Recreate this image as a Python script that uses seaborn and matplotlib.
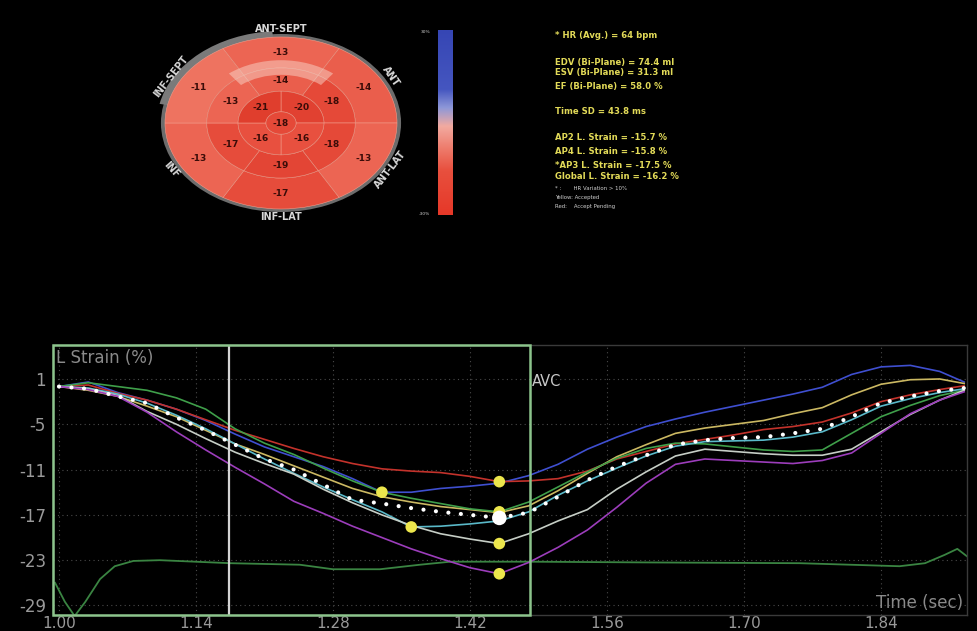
import numpy as np
import pandas as pd
import matplotlib
matplotlib.use("Agg")
import matplotlib.pyplot as plt
import seaborn as sns
from matplotlib.patches import Wedge, Rectangle
from matplotlib.colors import LinearSegmentedColormap, Normalize

# ---------------- data ----------------
time_s = [1.00, 1.03, 1.06, 1.09, 1.12, 1.15, 1.18, 1.21, 1.24, 1.27, 1.30,
          1.33, 1.36, 1.39, 1.42, 1.45, 1.48, 1.51, 1.54, 1.57, 1.60, 1.63,
          1.66, 1.69, 1.72, 1.75, 1.78, 1.81, 1.84, 1.87, 1.90, 1.925]

strain_blue = [0.0, 0.6, -0.8, -1.8, -3.0, -4.5, -6.3, -8.0, -9.3, -10.6, -12.2,
               -14.0, -14.0, -13.5, -13.2, -12.8, -11.8, -10.3, -8.3, -6.7, -5.3, -4.3,
               -3.4, -2.6, -1.8, -1.0, -0.1, 1.6, 2.6, 2.8, 2.0, 0.6]
strain_red = [0.0, 0.2, -0.9, -1.8, -3.0, -4.4, -5.8, -7.0, -8.2, -9.3, -10.2,
              -10.9, -11.2, -11.4, -11.9, -12.6, -12.5, -12.2, -11.2, -9.6, -8.6, -7.6,
              -7.0, -6.4, -5.7, -5.3, -4.7, -3.5, -2.0, -1.1, -0.4, 0.1]
strain_tan = [0.0, -0.5, -1.3, -2.6, -4.0, -5.8, -7.6, -9.0, -10.5, -12.0, -13.5,
              -14.6, -15.3, -15.9, -16.3, -16.7, -15.8, -13.8, -11.5, -9.3, -7.7, -6.2,
              -5.5, -5.0, -4.5, -3.6, -2.8, -1.1, 0.3, 0.9, 1.0, 0.4]
strain_green = [0.0, 0.5, 0.0, -0.5, -1.5, -3.0, -5.6, -7.5, -9.0, -10.8, -12.5,
                -14.0, -14.8, -15.5, -16.2, -16.6, -15.3, -13.3, -11.3, -9.5, -8.2, -7.5,
                -7.6, -8.0, -8.4, -8.6, -8.4, -6.2, -4.0, -2.5, -1.2, -0.5]
strain_cyan = [0.0, -0.2, -1.0, -2.2, -3.8, -5.6, -7.6, -9.6, -11.5, -13.3, -15.0,
               -16.6, -18.6, -18.5, -18.2, -17.8, -16.6, -14.4, -12.5, -10.8, -9.2, -7.9,
               -7.3, -7.2, -7.1, -6.7, -6.0, -4.4, -2.6, -1.6, -0.8, -0.3]
strain_gray = [0.0, -0.3, -1.2, -3.3, -5.0, -6.9, -8.7, -10.2, -11.6, -13.6, -15.4,
               -17.0, -18.4, -19.5, -20.2, -20.8, -19.5, -17.8, -16.3, -13.6, -11.3, -9.2,
               -8.3, -8.6, -8.9, -9.1, -9.1, -8.3, -6.0, -3.7, -1.8, -0.5]
strain_purple = [0.0, -0.4, -1.3, -3.4, -6.0, -8.4, -10.7, -12.9, -15.2, -16.8, -18.5,
                 -20.0, -21.5, -22.8, -24.0, -24.8, -23.3, -21.3, -19.0, -16.0, -12.8, -10.3,
                 -9.6, -9.8, -10.0, -10.2, -9.8, -8.8, -6.2, -3.6, -1.8, -0.7]
strain_avg = [0.0, -0.3, -1.3, -2.2, -4.1, -5.8, -7.7, -9.6, -11.0, -13.0, -15.0,
              -15.5, -16.1, -16.6, -17.0, -17.4, -16.7, -14.6, -12.4, -10.6, -9.1, -7.7,
              -7.1, -6.8, -6.7, -6.2, -5.6, -4.0, -2.2, -1.3, -0.6, -0.2]

ecg_time = [0.996, 1.006, 1.016, 1.027, 1.042, 1.057, 1.076, 1.103, 1.175, 1.246,
            1.280, 1.328, 1.369, 1.400, 1.481, 1.604, 1.757, 1.859, 1.885, 1.905,
            1.918, 1.928]
ecg_vals = [-26.0, -28.5, -30.4, -28.5, -25.5, -23.8, -23.1, -23.0, -23.4, -23.6,
            -24.2, -24.2, -23.6, -23.2, -23.2, -23.3, -23.4, -23.8, -23.4, -22.3,
            -21.5, -22.5]

x_ticks = [1.00, 1.14, 1.28, 1.42, 1.56, 1.70, 1.84]
x_tick_labels = ["1.00", "1.14", "1.28", "1.42", "1.56", "1.70", "1.84"]
y_ticks = [1, -5, -11, -17, -23, -29]
y_tick_labels = ["1", "-5", "-11", "-17", "-23", "-29"]
avc_time = 1.481
cursor_time = 1.174

# bull's-eye (order: ANT-SEPT, ANT, ANT-LAT, INF-LAT, INF, INF-SEPT)
wall_labels = ["ANT-SEPT", "ANT", "ANT-LAT", "INF-LAT", "INF", "INF-SEPT"]
basal_vals = [-13, -14, -13, -17, -13, -11]
mid_vals = [-14, -18, -18, -19, -17, -13]
apical_vals = [-20, -16, -16, -21]   # upper-right, lower-right, lower-left, upper-left
apex_val = -18

info_lines = ["* HR (Avg.) = 64 bpm", "EDV (Bi-Plane) = 74.4 ml",
              "ESV (Bi-Plane) = 31.3 ml", "EF (Bi-Plane) = 58.0 %",
              "Time SD = 43.8 ms", "AP2 L. Strain = -15.7 %",
              "AP4 L. Strain = -15.8 %", "*AP3 L. Strain = -17.5 %",
              "Global L. Strain = -16.2 %"]
note_lines = ["* :       HR Variation > 10%", "Yellow: Accepted", "Red:    Accept Pending"]

# ---------------- figure ----------------
W, H = 977, 631
fig = plt.figure(figsize=(W / 100, H / 100), dpi=100, facecolor="black")
plt.rcParams["font.family"] = ["DejaVu Sans"]

def fx(px):
    return px / W

def fy(py):
    return 1 - py / H

# ---- main strain plot ----
ax = fig.add_axes([fx(53), fy(615), fx(967) - fx(53), fy(345) - fy(615)])
ax.set_facecolor("black")

seg_names = ["blue", "red", "tan", "green", "cyan", "gray", "purple"]
seg_series = [strain_blue, strain_red, strain_tan, strain_green,
              strain_cyan, strain_gray, strain_purple]
seg_palette = {"blue": "#3f4fd0", "red": "#c3322b", "tan": "#cbb862",
               "green": "#3f9f4a", "cyan": "#5ab9c9", "gray": "#c6cec6",
               "purple": "#9c3dbb"}
df = pd.DataFrame({"time": time_s})
for n, s in zip(seg_names, seg_series):
    df[n] = s
long = df.melt(id_vars="time", var_name="segment", value_name="strain")

sns.lineplot(data=pd.DataFrame({"time": ecg_time, "strain": ecg_vals}),
             x="time", y="strain", color="#3a8442", lw=1.3, ax=ax,
             estimator=None, sort=False)
sns.lineplot(data=long, x="time", y="strain", hue="segment", palette=seg_palette,
             hue_order=seg_names, lw=1.2, ax=ax, legend=False,
             estimator=None, sort=False)
sns.lineplot(x=time_s, y=strain_avg, color="white", lw=3.0, ax=ax,
             estimator=None, sort=False)
avg_line = ax.lines[-1]
avg_line.set_linestyle((0, (0.01, 3.0)))
avg_line.set_dash_capstyle("round")
avg_line.set_zorder(4)

# peak markers computed from data
tarr = np.array(time_s)
pk_t, pk_v = [], []
for s in seg_series:
    a = np.array(s)
    i = int(np.argmin(a))
    pk_t.append(tarr[i]); pk_v.append(a[i])
sns.scatterplot(x=pk_t, y=pk_v, color="#ece64c", s=70, edgecolor="none",
                ax=ax, zorder=6, legend=False)
ia = int(np.argmin(strain_avg))
sns.scatterplot(x=[tarr[ia]], y=[strain_avg[ia]], color="white", s=110,
                edgecolor="none", ax=ax, zorder=7, legend=False)

xlo, xhi = 0.9939, 1.9279
ylo, yhi = -30.26, 5.50
ax.set_xlim(xlo, xhi)
ax.set_ylim(ylo, yhi)
ax.set_xticks(x_ticks)
ax.set_xticklabels(x_tick_labels)
ax.set_yticks(y_ticks)
ax.set_yticklabels(y_tick_labels)
ax.set_xlabel("")
ax.set_ylabel("")
ax.tick_params(length=0, colors="#9a9a9a", labelsize=11, pad=1)
ax.tick_params(axis="y", pad=5, labelsize=12)
ax.grid(True, color="#4a4a4a", linestyle=(0, (1, 3)), lw=0.8)
ax.set_axisbelow(True)
for sp in ax.spines.values():
    sp.set_color("#3a3a3a")
    sp.set_linewidth(1.0)

ax.axvline(cursor_time, color="#d4d4d4", lw=1.6, zorder=3)
ax.add_patch(Rectangle((xlo, ylo), avc_time - xlo, yhi - ylo, fill=False,
                       ec="#8cc48c", lw=1.8, zorder=5, clip_on=False))
ax.text(avc_time + 0.002, 0.7, "AVC", color="#c8c8c8", fontsize=10.5,
        va="center", ha="left")
ax.text(0.003, 0.952, "L Strain (%)", color="#8a8a8a", fontsize=12,
        va="center", ha="left", transform=ax.transAxes)
ax.text(0.9956, 0.044, "Time (sec)", color="#8a8a8a", fontsize=12,
        va="center", ha="right", transform=ax.transAxes)

# ---- bull's-eye ----
axb = fig.add_axes([fx(135), fy(236), fx(427) - fx(135), fy(10) - fy(236)])
axb.set_xlim(-1.2586, 1.2586)
axb.set_ylim(-1.314, 1.314)
axb.axis("off")

be_cmap = LinearSegmentedColormap.from_list("be", ["#de3a2a", "#e8503f", "#ef7a66"])
be_norm = Normalize(-22, -10)
edge = "#f29a88"

axb.add_patch(Wedge((0, 0), 1.035, 0, 360, width=0.045, fc="#6c6c6c", ec="none"))
axb.add_patch(Wedge((0, 0), 1.07, 94, 168, width=0.08, fc="#7a7a7a", ec="none"))

six_centers = [90, 30, -30, -90, -150, 150]
for c, v in zip(six_centers, basal_vals):
    axb.add_patch(Wedge((0, 0), 1.0, c - 30, c + 30, width=0.36,
                        fc=be_cmap(be_norm(v)), ec=edge, lw=0.4))
    a = np.deg2rad(c)
    axb.text(0.82 * np.cos(a), 0.82 * np.sin(a), str(v), color="#3a0c08",
             fontsize=6.5, fontweight="bold", ha="center", va="center")
for c, v in zip(six_centers, mid_vals):
    axb.add_patch(Wedge((0, 0), 0.64, c - 30, c + 30, width=0.27,
                        fc=be_cmap(be_norm(v)), ec=edge, lw=0.4))
    a = np.deg2rad(c)
    axb.text(0.5 * np.cos(a), 0.5 * np.sin(a), str(v), color="#3a0c08",
             fontsize=6.5, fontweight="bold", ha="center", va="center")
four_centers = [45, -45, -135, 135]
for c, v in zip(four_centers, apical_vals):
    axb.add_patch(Wedge((0, 0), 0.37, c - 45, c + 45, width=0.24,
                        fc=be_cmap(be_norm(v)), ec=edge, lw=0.4))
    a = np.deg2rad(c)
    axb.text(0.25 * np.cos(a), 0.25 * np.sin(a), str(v), color="#3a0c08",
             fontsize=6.5, fontweight="bold", ha="center", va="center")
axb.add_patch(Wedge((0, 0), 0.13, 0, 360, fc=be_cmap(be_norm(apex_val)),
                    ec=edge, lw=0.4))
axb.text(0, 0, str(apex_val), color="#3a0c08", fontsize=6.5,
         fontweight="bold", ha="center", va="center")
# pale highlight band
axb.add_patch(Wedge((0, 0), 0.73, 52, 128, width=0.17, fc="#f8d4c8",
                    alpha=0.5, ec="none"))

wall_rot = [0, -55, 52, 0, -48, 52]
for c, lab, r in zip(six_centers, wall_labels, wall_rot):
    a = np.deg2rad(c)
    axb.text(1.09 * np.cos(a), 1.09 * np.sin(a), lab, color="#d8d8d8",
             fontsize=7, fontweight="bold", rotation=r,
             ha="center", va="center", rotation_mode="anchor")

# ---- colour bar ----
axc = fig.add_axes([fx(438), fy(215), fx(453) - fx(438), fy(30) - fy(215)])
cb_cmap = LinearSegmentedColormap.from_list(
    "cb", [(0.0, "#3646b4"), (0.32, "#4556c0"), (0.42, "#8e98d8"),
           (0.52, "#f2aaa0"), (0.64, "#ee7c6c"), (0.76, "#e8503e"),
           (1.0, "#e63828")])
axc.imshow(np.linspace(0, 1, 256)[:, None], cmap=cb_cmap, aspect="auto",
           extent=[0, 1, 0, 1], origin="upper")
axc.axis("off")
fig.text(fx(430), fy(32), "30%", color="#d0d0d0", fontsize=3.2,
         ha="right", va="center")
fig.text(fx(430), fy(214), "-30%", color="#d0d0d0", fontsize=3.2,
         ha="right", va="center")

# ---- info text ----
info_y = [35, 62, 73, 87, 112, 138, 152, 165, 176]
for s, y in zip(info_lines, info_y):
    fig.text(fx(555), fy(y), s, color="#e2da58", fontsize=6.1,
             fontweight="bold", ha="left", va="center")
note_y = [188, 198, 206]
for s, y in zip(note_lines, note_y):
    fig.text(fx(555), fy(y), s, color="#cfcfcf", fontsize=3.9,
             ha="left", va="center")

fig.savefig("out.png", dpi=100, facecolor="black")
